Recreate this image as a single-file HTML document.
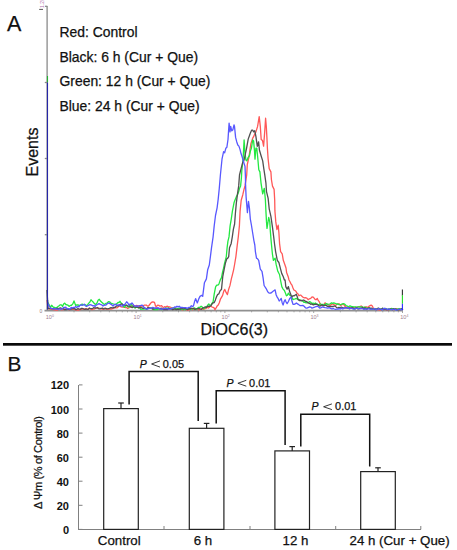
<!DOCTYPE html>
<html><head><meta charset="utf-8"><style>
html,body{margin:0;padding:0;background:#fff;width:457px;height:550px;overflow:hidden}
svg{position:absolute;left:0;top:0;display:block}
text{font-family:"Liberation Sans",sans-serif;fill:#111;stroke:#111;stroke-width:0.25px}
.leg{font-size:13.9px}
.yl{font-size:11px;font-weight:bold;stroke:none}
.tk{font-size:5.5px;fill:#a08090;stroke:none}
</style></head><body>
<svg width="457" height="550" viewBox="0 0 457 550">
<rect width="457" height="550" fill="#fff"/>
<!-- Panel A -->
<text x="7" y="30.5" style="font-size:21.5px">A</text>
<text x="59.5" y="37" class="leg">Red: Control</text>
<text x="59.5" y="61.8" class="leg">Black: 6 h (Cur + Que)</text>
<text x="59.5" y="85.9" class="leg">Green: 12 h (Cur + Que)</text>
<text x="59.5" y="110.5" class="leg">Blue: 24 h (Cur + Que)</text>
<text transform="translate(38.3,152) rotate(-90)" text-anchor="middle" style="font-size:16px">Events</text>
<text x="200.5" y="335" style="font-size:16px">DiOC6(3)</text>
<g stroke="#8a8a8a" stroke-width="1.3" fill="none">
<line x1="47.1" y1="6" x2="47.1" y2="311"/>
<line x1="45" y1="6.3" x2="47.3" y2="6.3"/>
<line x1="44.8" y1="82.5" x2="47.3" y2="82.5"/>
<line x1="44.8" y1="158.5" x2="47.3" y2="158.5"/>
<line x1="44.8" y1="234.7" x2="47.3" y2="234.7"/>
</g>
<line x1="44.5" y1="310.6" x2="403" y2="310.6" stroke="#909090" stroke-width="1.8"/>
<g stroke="#999" stroke-width="0.9"><line x1="74.0" y1="310.6" x2="74.0" y2="312.3"/><line x1="89.7" y1="310.6" x2="89.7" y2="312.3"/><line x1="100.8" y1="310.6" x2="100.8" y2="312.3"/><line x1="109.4" y1="310.6" x2="109.4" y2="312.3"/><line x1="116.4" y1="310.6" x2="116.4" y2="312.3"/><line x1="122.3" y1="310.6" x2="122.3" y2="312.3"/><line x1="127.5" y1="310.6" x2="127.5" y2="312.3"/><line x1="132.0" y1="310.6" x2="132.0" y2="312.3"/><line x1="136.1" y1="310.6" x2="136.1" y2="313"/><line x1="162.8" y1="310.6" x2="162.8" y2="312.3"/><line x1="178.5" y1="310.6" x2="178.5" y2="312.3"/><line x1="189.6" y1="310.6" x2="189.6" y2="312.3"/><line x1="198.2" y1="310.6" x2="198.2" y2="312.3"/><line x1="205.2" y1="310.6" x2="205.2" y2="312.3"/><line x1="211.1" y1="310.6" x2="211.1" y2="312.3"/><line x1="216.3" y1="310.6" x2="216.3" y2="312.3"/><line x1="220.8" y1="310.6" x2="220.8" y2="312.3"/><line x1="224.9" y1="310.6" x2="224.9" y2="313"/><line x1="251.6" y1="310.6" x2="251.6" y2="312.3"/><line x1="267.3" y1="310.6" x2="267.3" y2="312.3"/><line x1="278.4" y1="310.6" x2="278.4" y2="312.3"/><line x1="287.0" y1="310.6" x2="287.0" y2="312.3"/><line x1="294.0" y1="310.6" x2="294.0" y2="312.3"/><line x1="299.9" y1="310.6" x2="299.9" y2="312.3"/><line x1="305.1" y1="310.6" x2="305.1" y2="312.3"/><line x1="309.6" y1="310.6" x2="309.6" y2="312.3"/><line x1="313.7" y1="310.6" x2="313.7" y2="313"/><line x1="340.4" y1="310.6" x2="340.4" y2="312.3"/><line x1="356.1" y1="310.6" x2="356.1" y2="312.3"/><line x1="367.2" y1="310.6" x2="367.2" y2="312.3"/><line x1="375.8" y1="310.6" x2="375.8" y2="312.3"/><line x1="382.8" y1="310.6" x2="382.8" y2="312.3"/><line x1="388.7" y1="310.6" x2="388.7" y2="312.3"/><line x1="393.9" y1="310.6" x2="393.9" y2="312.3"/><line x1="398.4" y1="310.6" x2="398.4" y2="312.3"/><line x1="402.5" y1="310.6" x2="402.5" y2="313"/></g>
<line x1="39.2" y1="9.4" x2="43" y2="9.4" stroke="#555" stroke-width="1"/>
<polyline fill="none" stroke="#ff5858" stroke-width="1.3" stroke-linejoin="round" points="47.0,300.0 48.0,308.5 56.2,310.0 57.5,310.0 58.8,308.7 60.0,308.7 61.2,309.8 62.5,309.7 63.8,309.5 65.0,309.2 66.2,308.9 67.5,309.4 68.8,309.5 70.0,309.5 71.2,308.8 72.5,309.3 73.8,309.3 75.0,309.5 76.2,309.8 77.5,310.0 78.8,310.0 80.0,309.5 81.2,309.3 82.5,309.0 83.8,308.6 85.0,309.3 86.2,308.5 87.4,309.2 88.6,308.9 89.8,308.9 91.0,309.1 92.1,309.7 93.2,309.0 94.4,309.0 95.5,308.4 96.6,308.0 97.8,308.4 98.9,308.0 100.0,308.5 101.2,308.6 102.5,309.4 103.8,308.9 105.0,308.1 106.2,309.3 107.5,309.2 108.8,309.1 110.0,308.8 111.2,309.1 112.5,308.6 113.8,308.3 115.0,307.3 116.2,307.9 117.5,307.6 118.8,306.0 120.0,306.2 121.1,306.9 122.2,307.1 123.3,307.0 124.4,307.3 125.5,307.5 126.6,307.6 127.7,308.5 128.8,308.0 129.9,307.3 130.9,307.1 132.0,305.6 133.1,305.1 134.2,305.9 135.3,306.0 136.4,305.5 137.5,305.7 138.6,305.9 139.7,306.6 140.8,306.4 141.9,306.2 143.0,305.9 144.1,305.2 145.2,305.1 146.3,305.1 147.4,306.0 148.4,306.2 150.1,304.0 151.4,302.4 152.8,301.8 154.5,302.4 155.6,306.2 156.6,306.3 157.7,305.1 158.8,305.3 159.9,306.2 161.6,305.7 162.7,307.2 163.8,307.3 164.9,306.6 165.9,307.3 167.0,306.2 168.5,306.9 170.0,307.0 171.2,307.5 172.5,307.9 173.8,308.6 175.0,308.8 176.2,309.1 177.5,308.7 178.8,308.7 180.0,309.3 181.2,309.3 182.5,310.0 183.8,309.6 185.0,308.7 186.2,309.9 187.5,309.8 188.8,310.0 190.0,309.5 191.2,309.0 192.5,309.8 193.8,308.7 195.0,309.6 196.2,309.0 197.5,308.9 198.8,309.9 200.0,309.3 201.2,308.5 202.4,309.0 203.6,309.4 204.8,308.3 206.0,308.5 207.2,307.5 208.5,308.0 209.8,306.7 211.0,306.2 212.1,307.1 213.1,307.3 214.1,307.8 215.0,309.7 216.1,307.9 217.1,306.1 218.2,305.1 219.3,302.8 220.4,299.2 221.5,297.3 222.6,295.4 223.7,291.3 224.8,289.4 226.1,292.4 227.4,294.6 228.7,289.2 230.0,285.4 231.3,279.1 232.7,273.6 233.6,269.8 234.5,265.0 235.9,256.6 237.2,245.6 238.3,236.9 239.4,225.9 240.1,211.1 241.2,200.2 242.8,194.7 243.9,189.8 245.0,185.9 246.7,175.0 247.3,164.5 249.1,156.4 250.0,149.5 250.9,143.6 252.7,138.2 253.6,136.7 254.5,134.5 255.9,131.9 257.6,126.4 259.2,116.6 260.3,126.4 261.2,139.5 262.5,140.6 263.6,146.1 264.7,131.9 265.6,118.2 266.3,126.4 266.9,137.4 267.4,148.3 268.1,158.8 269.2,168.6 270.9,171.9 271.4,179.5 272.5,186.1 274.1,189.4 274.7,200.0 274.9,210.9 275.8,221.9 276.9,229.5 278.2,225.2 278.9,232.8 279.6,243.8 280.6,251.6 282.2,253.8 283.3,260.3 284.9,264.7 286.0,268.0 286.6,272.4 288.2,276.7 289.0,280.0 290.0,281.8 291.0,283.9 292.0,285.2 293.0,287.9 293.9,290.0 294.9,290.5 295.9,291.2 296.9,293.1 297.9,293.7 298.9,295.8 299.9,295.2 300.9,295.1 301.9,296.3 302.8,297.1 304.1,297.8 305.4,297.7 306.8,298.1 308.1,299.7 309.4,298.8 310.7,298.4 312.0,297.0 313.3,297.1 314.3,298.3 315.3,299.7 316.3,299.5 317.3,298.4 318.2,300.4 319.2,301.7 320.5,304.3 321.9,305.6 322.9,305.1 324.0,304.4 325.0,302.9 326.4,303.9 327.8,304.3 329.1,304.9 330.3,305.5 331.6,304.2 332.9,303.8 334.2,304.9 335.5,305.5 336.8,304.4 338.1,303.8 339.4,304.0 340.7,305.5 342.0,304.6 343.4,303.8 344.7,306.1 346.0,307.3 347.2,306.9 348.5,307.8 349.8,307.7 351.0,308.1 352.1,308.0 353.2,307.2 354.3,308.4 355.4,307.1 356.5,307.3 357.7,307.2 358.8,306.6 360.0,306.4 361.3,306.0 362.7,307.3 364.0,307.6 365.3,307.0 366.7,306.9 368.0,307.6 369.1,306.1 370.3,305.5 371.4,305.2 372.3,306.0 373.2,308.1 374.4,308.6 375.6,308.8 376.8,309.8 378.0,309.4 379.2,310.0 380.4,310.0 381.6,309.0 382.8,309.3 384.0,309.0 385.2,309.5 386.4,309.6 387.6,309.9 388.8,309.7 390.0,309.4 391.2,309.0 392.4,309.3 393.5,309.5 394.7,308.6 395.9,308.7 397.1,309.3 398.3,308.8 399.5,309.8 400.6,309.1 401.8,308.9 403.0,309.5"/><polyline fill="none" stroke="#22e840" stroke-width="1.3" stroke-linejoin="round" points="47.5,300.0 47.6,302.0 49.4,305.4 50.5,307.5 51.6,305.3 52.7,306.5 53.8,307.5 54.9,307.5 56.0,308.0 57.0,307.4 58.1,306.4 59.2,305.8 60.3,304.8 61.4,304.9 62.5,306.4 63.6,304.0 64.7,303.1 65.8,304.5 66.9,304.8 68.0,305.2 69.1,306.4 70.3,305.4 71.5,305.3 72.8,303.9 74.0,300.9 75.6,305.3 76.8,305.0 78.0,304.8 79.0,305.6 80.0,305.3 81.1,304.7 82.2,304.2 83.3,304.7 84.4,304.8 85.5,304.8 86.6,305.9 87.7,304.7 88.8,303.1 89.9,302.0 91.0,299.8 92.0,300.9 93.1,302.0 94.4,303.6 95.8,304.5 97.0,303.0 98.1,300.3 99.3,299.3 100.7,301.3 102.0,302.5 103.2,303.6 104.5,304.5 105.8,303.4 107.0,303.0 108.4,301.7 109.8,301.9 110.9,303.3 112.0,303.5 113.5,304.0 115.0,304.5 116.5,303.9 118.0,302.5 119.0,302.5 120.0,301.3 121.1,303.0 122.2,304.0 123.3,306.3 124.4,307.3 125.5,306.0 126.6,305.1 127.7,306.7 128.8,307.3 129.9,305.6 131.0,304.0 132.5,306.3 134.0,307.3 135.2,308.1 136.3,307.0 137.4,307.2 138.6,307.9 139.7,307.8 140.8,309.4 141.9,309.0 143.0,308.9 144.1,309.2 145.2,308.7 146.3,309.0 147.4,308.7 148.5,308.3 149.6,307.9 150.7,307.9 151.8,308.4 152.8,308.8 153.9,309.7 155.0,309.5 156.3,309.4 157.7,309.5 159.0,308.4 160.3,309.2 161.7,309.6 163.0,309.0 164.3,309.0 165.6,307.9 166.8,308.8 168.1,307.9 169.2,308.7 170.4,308.7 171.6,308.3 172.7,308.6 173.8,307.9 175.0,308.4 176.2,309.0 177.3,308.7 178.5,308.4 179.7,308.1 180.8,309.5 182.0,309.0 183.2,309.8 184.4,308.5 185.6,309.7 186.8,309.1 188.0,309.3 189.1,308.6 190.2,308.6 191.2,309.2 192.3,309.2 193.4,308.4 194.6,307.9 195.8,309.0 197.0,309.0 198.4,307.3 199.7,307.5 201.1,306.2 202.2,307.0 203.3,308.4 204.4,308.5 205.5,307.3 206.6,307.0 207.7,305.1 208.8,304.0 209.9,305.3 211.0,305.1 212.1,303.1 213.1,301.8 214.2,294.2 215.6,286.8 216.7,285.2 217.8,285.2 218.9,284.1 220.2,280.1 221.5,277.6 222.5,272.5 223.5,268.4 224.6,263.1 226.3,256.6 227.1,247.8 227.9,241.3 229.0,236.9 230.1,225.9 231.3,218.8 232.4,211.1 234.1,202.4 235.2,199.5 236.3,196.9 237.4,194.9 238.4,192.5 239.5,188.6 240.6,185.9 241.4,178.0 241.8,170.9 243.2,157.3 244.1,140.0 245.0,152.7 245.9,160.0 246.8,160.9 248.2,157.3 249.5,155.5 250.4,151.1 251.4,148.2 252.7,140.0 253.6,140.9 254.5,150.9 255.0,159.1 255.9,148.2 256.8,148.2 257.7,157.3 258.8,169.7 259.9,171.9 261.0,182.8 262.7,193.8 264.3,188.3 265.4,200.0 265.9,210.9 266.5,221.9 267.0,228.4 268.7,217.5 269.8,221.9 270.3,230.6 271.2,241.6 272.0,250.0 272.4,253.8 273.4,260.3 275.1,258.1 276.2,264.7 277.8,271.3 279.5,274.5 280.5,280.0 281.8,286.6 283.1,289.1 284.4,290.5 285.4,292.9 286.4,295.8 287.4,295.2 288.4,293.1 289.7,295.1 291.0,295.8 292.0,297.6 293.0,299.7 294.1,299.2 295.2,298.9 296.3,298.4 297.4,299.1 298.4,299.4 299.5,299.7 300.6,300.2 301.7,300.8 302.8,301.0 303.9,302.4 305.0,302.3 306.1,303.0 307.2,302.5 308.3,302.5 309.4,301.7 310.7,302.2 312.0,303.6 313.1,303.1 314.2,304.0 315.3,303.0 316.4,303.7 317.5,304.3 318.6,304.9 319.9,303.9 321.2,304.4 322.5,304.3 323.8,304.6 325.0,304.6 326.3,303.6 327.6,304.4 329.0,304.2 330.3,303.8 331.5,302.8 332.6,303.4 333.8,302.9 335.1,303.3 336.4,304.0 337.7,303.9 339.0,304.6 340.2,304.7 341.3,304.4 342.5,303.8 343.7,303.6 344.8,304.2 346.0,305.5 347.3,306.0 348.6,306.7 350.0,305.8 351.3,306.4 352.6,306.6 353.9,307.0 355.2,306.8 356.5,307.3 357.8,307.0 359.1,306.8 360.5,306.8 361.8,306.9 363.1,307.4 364.4,307.2 365.7,307.6 367.0,308.1 368.2,308.7 369.3,307.6 370.5,308.7 371.7,309.1 372.8,308.5 374.0,309.0 375.2,308.6 376.4,309.5 377.7,308.6 378.9,308.5 380.1,308.9 381.3,309.3 382.6,308.4 383.8,308.7 385.0,309.0 386.2,308.7 387.5,309.5 388.8,308.9 390.0,309.6 391.2,308.5 392.5,308.7 393.8,309.2 395.0,309.0 396.1,309.7 397.3,309.1 398.4,308.8 399.6,308.7 400.7,309.4 401.9,308.9 403.0,309.5"/><polyline fill="none" stroke="#505050" stroke-width="1.3" stroke-linejoin="round" points="47.0,290.0 48.0,308.6 56.2,308.7 57.3,308.4 58.5,308.7 59.7,308.2 60.8,308.0 62.0,308.6 63.1,308.6 64.3,309.5 65.4,309.5 66.6,309.5 67.7,308.8 68.9,309.4 70.0,309.5 71.1,309.0 72.3,308.7 73.4,308.5 74.6,308.5 75.7,309.5 76.9,309.3 78.0,308.6 79.1,309.1 80.3,309.2 81.4,308.3 82.6,308.5 83.7,309.1 84.9,309.3 86.0,309.0 87.1,309.4 88.2,309.4 89.4,308.0 90.5,308.7 91.6,308.6 92.8,308.3 93.9,307.6 95.0,308.0 96.2,308.0 97.5,307.5 98.8,308.9 100.0,308.8 101.2,308.4 102.5,308.1 103.8,309.1 105.0,308.5 106.2,308.5 107.5,308.9 108.8,308.7 110.0,308.0 111.2,307.7 112.5,307.9 113.8,307.5 115.0,307.5 116.2,306.2 117.5,305.7 118.8,305.8 120.0,304.6 121.2,304.0 122.5,304.2 123.8,305.3 125.0,305.2 126.2,305.2 127.4,305.9 128.6,306.1 129.8,306.2 131.0,306.8 132.2,307.7 133.5,306.6 134.8,307.0 136.0,307.3 137.2,306.9 138.4,307.8 139.6,307.3 140.8,307.5 142.0,307.9 143.1,308.4 144.3,307.8 145.4,308.3 146.6,308.9 147.7,307.7 148.9,307.7 150.0,308.5 151.2,308.1 152.5,309.0 153.8,308.8 155.0,308.2 156.2,308.4 157.5,308.2 158.8,308.7 160.0,308.8 161.2,308.1 162.5,309.2 163.8,309.5 165.0,309.6 166.2,309.3 167.5,309.7 168.8,308.2 170.0,309.0 171.2,308.7 172.5,309.7 173.8,309.4 175.0,308.9 176.2,309.7 177.5,309.2 178.8,309.5 180.0,309.0 181.2,308.7 182.5,308.5 183.8,308.9 185.0,308.4 186.2,308.8 187.5,309.7 188.8,308.7 190.0,309.0 191.2,308.2 192.5,308.3 193.8,308.5 195.0,309.5 196.2,308.8 197.5,308.7 198.8,308.4 200.0,309.0 201.3,309.4 202.6,308.2 204.0,307.5 205.3,306.9 206.6,307.3 207.6,306.3 208.7,306.2 209.7,306.5 210.8,305.8 212.0,303.9 213.2,302.8 214.3,302.5 215.4,299.9 216.5,296.8 217.6,294.6 218.9,293.7 220.2,290.5 221.5,289.4 222.8,276.3 224.1,269.7 225.4,263.1 226.8,258.8 227.8,258.1 228.7,256.6 229.5,247.8 231.2,243.4 232.3,236.9 233.4,229.2 234.6,224.0 235.4,213.3 236.3,203.4 237.4,194.7 238.7,185.9 239.5,175.0 240.5,170.9 241.6,166.7 242.7,162.7 243.6,161.2 244.5,158.2 245.4,153.6 246.4,149.1 248.2,139.1 249.5,135.5 250.6,132.4 251.6,130.2 252.6,130.2 253.7,131.9 254.8,130.8 255.9,136.3 257.3,146.4 258.6,141.8 259.4,150.0 261.0,155.5 262.7,160.9 263.8,168.6 264.8,175.2 265.9,182.8 266.5,191.6 268.1,198.1 269.2,208.8 270.9,216.4 272.5,227.4 273.6,236.1 274.6,244.5 275.6,251.6 277.3,260.3 278.9,262.5 280.6,269.1 281.7,273.4 283.3,276.7 284.4,280.0 285.1,280.0 285.8,286.6 287.1,289.2 288.4,286.6 289.7,291.8 290.7,294.3 291.7,297.1 293.0,295.7 294.3,295.8 295.3,295.0 296.3,294.4 297.2,296.6 298.2,299.7 299.3,300.5 300.4,300.6 301.5,300.3 302.6,300.5 303.7,300.0 304.8,301.0 305.9,301.3 307.0,301.9 308.1,303.0 309.4,303.2 310.7,304.3 312.0,303.9 313.3,304.9 314.6,304.3 315.9,304.2 317.3,304.4 318.6,305.6 319.9,306.1 321.2,305.2 322.5,304.9 323.8,305.9 325.2,305.2 326.5,305.6 327.6,306.4 328.7,306.2 329.8,306.5 330.9,306.6 332.0,306.4 333.2,306.5 334.3,306.0 335.5,306.4 336.7,307.6 337.8,307.8 339.0,307.3 340.2,308.0 341.3,307.1 342.5,307.7 343.7,308.0 344.8,307.8 346.0,307.6 347.2,308.2 348.3,307.8 349.5,308.1 350.7,308.2 351.8,307.6 353.0,308.1 354.2,308.8 355.3,308.8 356.5,307.4 357.7,308.9 358.8,308.8 360.0,308.1 361.2,308.4 362.5,307.5 363.8,308.9 365.0,307.8 366.2,309.2 367.5,308.7 368.8,307.8 370.0,308.6 371.2,308.1 372.5,308.9 373.8,308.9 375.0,309.2 376.2,309.5 377.5,308.4 378.8,308.2 380.0,309.0 381.2,309.7 382.5,308.2 383.8,309.6 385.0,308.4 386.2,309.5 387.5,309.5 388.8,309.6 390.0,309.0 391.2,309.1 392.4,309.7 393.5,308.7 394.7,309.5 395.9,309.0 397.1,309.9 398.3,309.8 399.5,309.3 400.6,309.5 401.8,308.7 403.0,309.5"/><polyline fill="none" stroke="#5858ff" stroke-width="1.3" stroke-linejoin="round" points="47.5,300.0 47.6,303.0 49.5,306.5 50.8,308.4 52.0,308.5 53.3,309.1 54.7,308.4 56.0,309.0 57.3,309.1 58.7,309.1 60.0,309.2 61.2,309.0 62.4,308.8 63.5,307.3 64.7,307.5 65.8,307.1 66.8,308.8 67.9,308.5 69.0,309.0 70.1,309.0 71.2,307.5 72.3,307.8 73.4,307.5 74.5,307.6 75.6,306.5 76.7,307.4 77.8,306.4 78.9,306.8 80.0,305.1 81.1,304.8 82.2,305.3 83.3,304.8 84.4,304.2 85.5,306.0 86.5,306.4 87.7,305.7 88.8,305.3 89.9,304.6 91.0,304.8 92.0,305.3 93.0,306.0 94.0,305.5 95.0,306.5 96.3,305.1 97.7,304.5 99.0,303.6 100.3,304.4 101.7,304.8 103.0,306.0 104.5,305.1 106.0,305.0 107.5,303.6 109.0,303.0 110.3,303.9 111.7,304.7 113.0,306.0 114.5,304.5 116.0,304.5 117.3,305.2 118.7,305.0 120.0,305.1 121.1,305.9 122.2,306.2 123.3,304.6 124.4,304.8 125.5,303.5 126.6,301.8 127.7,302.8 128.8,305.1 129.9,304.1 130.9,304.0 132.0,302.9 133.1,304.3 134.2,305.8 135.3,306.2 136.6,305.9 137.8,306.4 139.1,305.7 140.5,305.7 141.9,305.1 143.0,305.9 144.1,307.4 145.2,308.4 146.4,309.0 147.6,309.0 148.8,308.4 150.0,308.4 151.2,308.4 152.4,307.5 153.7,307.7 154.9,308.5 156.1,307.9 157.2,308.0 158.3,307.8 159.4,308.6 160.5,309.1 161.6,309.0 162.7,309.1 163.8,308.5 164.9,308.5 166.0,308.4 167.3,308.6 168.7,309.2 170.0,309.0 171.2,308.7 172.4,308.1 173.5,308.0 174.7,306.9 175.9,307.3 177.0,306.2 178.1,306.9 179.2,306.2 180.6,307.5 182.0,307.3 183.2,307.7 184.4,307.7 185.7,307.6 186.9,308.4 187.9,307.9 189.0,307.3 190.2,307.3 191.3,305.7 192.4,306.4 193.4,306.2 194.5,301.8 195.6,298.6 197.3,302.9 198.9,298.6 200.0,296.4 201.7,295.3 202.7,296.4 204.4,282.8 205.4,280.9 206.4,278.9 207.7,269.7 209.3,265.0 210.4,256.6 211.5,247.8 213.1,236.9 214.2,225.9 215.5,215.5 217.1,207.8 218.2,199.1 219.3,188.1 220.4,175.0 222.0,159.2 223.6,151.6 224.7,152.7 225.8,148.3 226.9,147.2 228.0,139.5 228.5,131.9 229.1,123.1 230.0,131.9 230.7,126.4 231.8,130.8 232.9,129.7 234.0,124.8 234.5,126.4 235.6,137.4 236.7,141.7 237.8,145.0 238.9,146.1 240.0,149.4 241.1,153.8 242.2,157.0 243.5,161.8 245.0,166.4 245.4,176.0 245.6,185.9 246.1,196.9 247.0,207.8 247.4,212.7 248.5,201.3 249.4,207.8 250.3,218.8 251.4,225.0 253.0,235.0 253.9,240.6 254.8,245.0 255.4,251.6 256.5,258.1 257.6,258.8 258.7,260.3 260.3,269.1 262.0,271.3 263.1,277.8 264.1,285.5 265.2,287.2 266.3,288.8 267.7,291.7 269.1,293.1 270.1,293.2 271.0,293.0 272.2,291.9 273.4,291.0 275.1,289.9 276.2,295.0 277.2,297.1 278.2,298.7 279.2,301.0 280.2,299.8 281.2,298.4 282.1,302.4 283.1,305.0 284.1,301.6 285.1,299.7 286.1,302.1 287.1,303.6 288.4,301.5 289.7,298.4 291.0,297.1 292.0,301.3 293.0,304.3 294.1,304.3 295.2,303.9 296.3,303.0 297.6,303.9 298.9,304.8 300.2,305.6 301.5,305.7 302.8,305.4 304.1,306.3 305.5,307.8 306.8,308.2 308.1,307.7 309.4,306.9 310.7,307.1 312.0,308.2 313.3,307.7 314.6,307.2 316.0,306.5 317.3,306.3 318.6,307.0 319.9,308.2 321.2,307.6 322.5,306.9 323.8,307.4 325.1,307.7 326.5,307.8 327.8,308.2 329.2,307.7 330.6,308.3 332.0,309.0 333.2,308.4 334.3,309.0 335.5,309.4 336.7,309.2 337.8,309.1 339.0,308.6 340.2,309.0 341.3,308.1 342.5,308.9 343.7,308.6 344.8,307.6 346.0,308.2 347.2,307.6 348.3,307.7 349.5,309.0 350.7,308.3 351.8,308.2 353.0,309.0 354.2,309.2 355.3,308.7 356.5,308.2 357.7,308.3 358.8,308.9 360.0,308.8 361.2,308.3 362.5,308.6 363.8,309.3 365.0,309.0 366.2,308.8 367.5,309.1 368.8,308.5 370.0,309.3 371.2,309.1 372.5,309.1 373.8,308.8 375.0,308.6 376.2,309.9 377.5,309.2 378.8,308.7 380.0,309.2 381.2,309.4 382.5,309.8 383.8,308.5 385.0,308.5 386.2,308.8 387.5,309.7 388.8,308.8 390.0,309.4 391.2,309.7 392.4,309.7 393.5,309.5 394.7,309.0 395.9,310.0 397.1,309.9 398.3,309.5 399.5,309.0 400.6,309.7 401.8,309.3 403.0,309.5"/>
<line x1="47.5" y1="76" x2="47.5" y2="82.5" stroke="#22b030" stroke-width="1.1"/>
<line x1="47.5" y1="82.5" x2="47.5" y2="309.5" stroke="#2626a8" stroke-width="1.1"/>
<line x1="402.4" y1="289.5" x2="402.4" y2="295.5" stroke="#303030" stroke-width="1.1"/>
<line x1="402.4" y1="295.3" x2="402.4" y2="303.7" stroke="#20e020" stroke-width="1.1"/>
<line x1="402.4" y1="303.7" x2="402.4" y2="310" stroke="#2b2bff" stroke-width="1.1"/>
<text x="39.5" y="312.5" style="font-size:5px;fill:#907a80;stroke:none">0</text>
<text x="45.8" y="318.5" class="tk">10<tspan dy="-2" style="font-size:3.5px">0</tspan></text>
<text x="133.6" y="318.5" class="tk">10<tspan dy="-2" style="font-size:3.5px">1</tspan></text>
<text x="221.6" y="318.5" class="tk">10<tspan dy="-2" style="font-size:3.5px">2</tspan></text>
<text x="310.4" y="318.5" class="tk">10<tspan dy="-2" style="font-size:3.5px">3</tspan></text>
<text x="400.3" y="318.5" class="tk">10<tspan dy="-2" style="font-size:3.5px">4</tspan></text>
<text transform="translate(43.5,8) rotate(-90)" style="font-size:5px;fill:#b070b0;stroke:none">1.2K</text>
<!-- separator -->
<rect x="3" y="343" width="449" height="2.7" fill="#0a0a0a"/>
<!-- Panel B -->
<text x="7.6" y="371" style="font-size:20.8px">B</text>
<text x="69" y="533.9" text-anchor="end" class="yl">0</text><text x="69" y="509.8" text-anchor="end" class="yl">20</text><text x="69" y="485.7" text-anchor="end" class="yl">40</text><text x="69" y="461.7" text-anchor="end" class="yl">60</text><text x="69" y="437.6" text-anchor="end" class="yl">80</text><text x="69" y="413.5" text-anchor="end" class="yl">100</text><text x="69" y="389.4" text-anchor="end" class="yl">120</text>
<g stroke="#808080" stroke-width="1" fill="none">
<line x1="78.5" y1="385" x2="78.5" y2="530"/>
<line x1="78" y1="529.5" x2="421" y2="529.5"/>
<line x1="79" y1="529.4" x2="82.5" y2="529.4"/><line x1="79" y1="505.3" x2="82.5" y2="505.3"/><line x1="79" y1="481.2" x2="82.5" y2="481.2"/><line x1="79" y1="457.2" x2="82.5" y2="457.2"/><line x1="79" y1="433.1" x2="82.5" y2="433.1"/><line x1="79" y1="409.0" x2="82.5" y2="409.0"/><line x1="79" y1="384.9" x2="82.5" y2="384.9"/>
<line x1="164" y1="529.4" x2="164" y2="526"/>
<line x1="250" y1="529.4" x2="250" y2="526"/>
<line x1="335.7" y1="529.4" x2="335.7" y2="526"/>
<line x1="420.8" y1="529.4" x2="420.8" y2="526"/>
</g>
<g stroke="#111" stroke-width="1.5" fill="none">
<polyline points="129.1,404.6 129.1,371.6 198.2,371.6 198.2,421"/>
<polyline points="216.2,423.6 216.2,390.8 285.1,390.8 285.1,445"/>
<polyline points="300.8,446.6 300.8,414.2 369.7,414.2 369.7,466.4"/>
</g>
<rect x="103.7" y="408.6" width="34.6" height="120.8" fill="#fff" stroke="#222" stroke-width="1.2"/><line x1="121.0" y1="403.0" x2="121.0" y2="408.6" stroke="#222" stroke-width="1.2"/><line x1="118.2" y1="403.0" x2="123.8" y2="403.0" stroke="#222" stroke-width="1.2"/><rect x="189.3" y="428.3" width="34.6" height="101.1" fill="#fff" stroke="#222" stroke-width="1.2"/><line x1="206.6" y1="423.4" x2="206.6" y2="428.3" stroke="#222" stroke-width="1.2"/><line x1="203.8" y1="423.4" x2="209.4" y2="423.4" stroke="#222" stroke-width="1.2"/><rect x="274.9" y="450.9" width="34.6" height="78.5" fill="#fff" stroke="#222" stroke-width="1.2"/><line x1="292.2" y1="446.6" x2="292.2" y2="450.9" stroke="#222" stroke-width="1.2"/><line x1="289.4" y1="446.6" x2="295.0" y2="446.6" stroke="#222" stroke-width="1.2"/><rect x="360.7" y="471.6" width="34.6" height="57.8" fill="#fff" stroke="#222" stroke-width="1.2"/><line x1="378.0" y1="467.8" x2="378.0" y2="471.6" stroke="#222" stroke-width="1.2"/><line x1="375.2" y1="467.8" x2="380.8" y2="467.8" stroke="#222" stroke-width="1.2"/>
<text transform="translate(42.3,462.6) rotate(-90)" text-anchor="middle" textLength="93" lengthAdjust="spacing" style="font-size:11px">&#916; &#936;m (% of Control)</text>
<text x="139.8" y="367.5" style="font-size:10.5px;font-style:italic">P</text>
<text x="162.8" y="367.5" style="font-size:10.9px">0.05</text>
<text x="226.5" y="386.6" style="font-size:10.5px;font-style:italic">P</text>
<text x="249.1" y="386.6" style="font-size:10.9px">0.01</text>
<text x="311.5" y="410.1" style="font-size:10.5px;font-style:italic">P</text>
<text x="335.1" y="410.1" style="font-size:10.9px">0.01</text>
<g stroke="#222" stroke-width="0.9" fill="none">
<polyline points="160,360.9 151.6,364 160,367.1"/>
<polyline points="246.3,380.3 237.9,383.25 246.3,386.2"/>
<polyline points="331.9,403.9 323.6,406.75 331.9,409.6"/>
</g>
<text x="119.3" y="545" text-anchor="middle" style="font-size:13.3px">Control</text>
<text x="203" y="545" text-anchor="middle" style="font-size:13.3px">6 h</text>
<text x="295.5" y="545" text-anchor="middle" style="font-size:13.3px">12 h</text>
<text x="399.6" y="545" text-anchor="middle" style="font-size:13.3px">24 h (Cur + Que)</text>
</svg>
</body></html>
